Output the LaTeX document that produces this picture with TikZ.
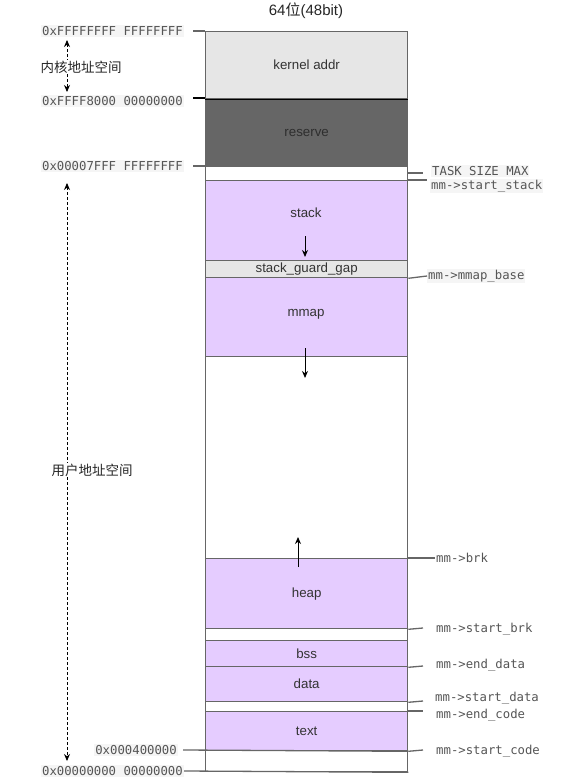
\documentclass[tikz,border=0pt]{standalone}
\usepackage{fontspec}
\setmainfont{Liberation Sans}
\setmonofont{DejaVu Sans Mono}
\newfontfamily\cjk{Noto Sans CJK SC}
\usetikzlibrary{arrows.meta}
\definecolor{purp}{HTML}{E5CCFF}
\definecolor{lgray}{HTML}{E6E6E6}
\definecolor{dgray}{HTML}{666666}
\definecolor{codebg}{HTML}{F5F5F5}
\definecolor{codefg}{HTML}{555555}
\definecolor{edge}{HTML}{666666}
\begin{document}
\begin{tikzpicture}[x=1pt,y=-1pt,
  seg/.style={draw=edge, line width=1.3pt, anchor=north west, minimum width=202pt, inner sep=0pt,
    font=\fontsize{13.3}{15}\selectfont, text=black!80},
  code/.style={font=\ttfamily\fontsize{12.3}{14}\selectfont, text=codefg, inner sep=1pt},
  codebgs/.style={code, fill=codebg},
  tick/.style={draw=edge, line width=1.3pt},
  sarrow/.style={-{Stealth[length=7pt,width=6pt]}, line width=1pt, black},
  dasharrow/.style={{Stealth[length=7pt,width=6pt]}-{Stealth[length=7pt,width=6pt]}, line width=0.9pt, dash pattern=on 3pt off 2pt},
  cjklabel/.style={font=\cjk\fontsize{13.5}{15}\selectfont, fill=white, inner sep=1pt, text=black!85}
]
\useasboundingbox (0,0) rectangle (560,781);
% title
\node[font=\fontsize{15}{17}\selectfont, text=black!85] (title) at (306,11) {64{\cjk 位}(48bit)};
% outer
\node[seg, minimum height=740pt] (outer) at (205,31) {};
% segments
\node[seg, fill=lgray, minimum height=67pt] (kernel) at (205,31) {kernel addr};
\node[seg, fill=dgray, minimum height=68pt, text=black!82] (reserve) at (205,98) {reserve};
\draw[black, line width=1.3pt] (kernel.south west) -- (kernel.south east);
\node[seg, fill=purp, minimum height=80pt] (stack) at (205,180) {};
\node[anchor=center, font=\fontsize{13.3}{15}\selectfont, text=black!80] (stacklbl) at (306,213) {stack};
\node[seg, fill=lgray, minimum height=17pt] (gap) at (205,260) {stack\_guard\_gap};
\node[seg, fill=purp, minimum height=79pt] (mmap) at (205,277) {};
\node[font=\fontsize{13.3}{15}\selectfont, text=black!80] (mmaplbl) at (306,314) {mmap};
\node[seg, fill=purp, minimum height=70pt] (heap) at (205,558) {heap};
\node[seg, fill=purp, minimum height=26pt] (bss) at (205,640) {bss};
\node[seg, fill=purp, minimum height=35pt] (data) at (205,666) {data};
\node[seg, fill=purp, minimum height=39pt] (text) at (205,711) {text};
% growth arrows
\coordinate (s1) at (305,236); \coordinate (s2) at (305,257);
\draw[sarrow] (s1) -- (s2);
\coordinate (m1) at (305,348); \coordinate (m2) at (305,378);
\draw[sarrow] (m1) -- (m2);
\coordinate (h1) at (298,567); \coordinate (h2) at (298,537);
\draw[sarrow] (h1) -- (h2);
% left addresses
\node[codebgs, anchor=east] (a1) at (184,31) {0xFFFFFFFF FFFFFFFF};
\node[codebgs, anchor=east] (a2) at (184,101) {0xFFFF8000 00000000};
\node[codebgs, anchor=east] (a3) at (184,166) {0x00007FFF FFFFFFFF};
\node[codebgs, anchor=east] (a4) at (178,750) {0x000400000};
\node[codebgs, anchor=east] (a5) at (184,771) {0x00000000 00000000};
\coordinate (t1) at (193,31); \draw[tick] (t1) -- (205,31);
\coordinate (t2) at (193,98); \draw[black, line width=1.3pt] (t2) -- (205,98);
\coordinate (t3) at (193,166); \draw[tick] (t3) -- (205,166);
\coordinate (t4) at (183,750); \draw[tick] (t4) -- (text.south east);
\draw[tick] (a5.east) -- (outer.south east);
% dashed ranges
\coordinate (k1) at (67,40); \coordinate (k2) at (67,92);
\draw[dasharrow] (k1) -- (k2);
\node[cjklabel] (klbl) at (81,67) {内核地址空间};
\coordinate (u1) at (67,183); \coordinate (u2) at (67,761);
\draw[dasharrow] (u1) -- (u2);
\node[cjklabel] (ulbl) at (92,470) {用户地址空间};
% right labels
\node[codebgs, anchor=west] (r1) at (431,171) {TASK SIZE MAX};
\node[codebgs, anchor=west] (r2) at (430,186) {mm->start\_stack};
\node[codebgs, anchor=west] (r3) at (427,276) {mm->mmap\_base};
\node[code, anchor=west] (r4) at (435,558) {mm->brk};
\node[code, anchor=west] (r5) at (435,629) {mm->start\_brk};
\node[code, anchor=west] (r6) at (435,665) {mm->end\_data};
\node[code, anchor=west] (r7) at (434,698) {mm->start\_data};
\node[code, anchor=west] (r8) at (435,715) {mm->end\_code};
\node[code, anchor=west] (r9) at (435,751) {mm->start\_code};
\draw[tick] (407,173) -- (423,173);
\draw[tick] (stack.north east) -- (427,180);
\draw[tick] (gap.south east) -- (r3.west);
\draw[tick] (heap.north east) -- (r4.west);
\draw[tick] (heap.south east) -- (423,628);
\draw[tick] (bss.south east) -- (423,666);
\draw[tick] (data.south east) -- (423,701);
\draw[tick] (text.north east) -- (423,711);
\draw[tick] (text.south east) -- (423,750);
\end{tikzpicture}
\end{document}
